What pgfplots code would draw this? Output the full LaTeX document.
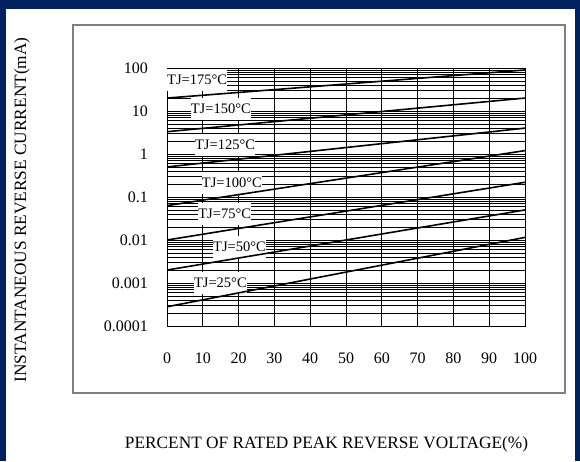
\documentclass[border=0pt]{standalone}
\usepackage{pgfplots}
\pgfplotsset{compat=1.18}
\usepackage{fontspec}
\setmainfont{Liberation Serif}
\definecolor{navy}{RGB}{0,32,96}
\newcommand{\labfont}{\fontsize{14.5}{16}\selectfont}

\begin{document}
\begin{tikzpicture}
% frame
\fill[navy] (0pt,0pt) rectangle (580pt,461pt);
\fill[white] (6pt,0pt) rectangle (575pt,452pt);
\draw[gray, line width=1.2pt] (73pt,68pt) rectangle (565pt,436pt);
\begin{axis}[
    at={(167pt,135pt)}, anchor=south west,
    scale only axis,
    width=358pt, height=258pt,
    ymode=log,
    xmin=0, xmax=100,
    ymin=1e-4, ymax=100,
    xtick={0,10,...,100},
    xticklabels={0,10,20,30,40,50,60,70,80,90,100},
    ytick={1e-4,1e-3,1e-2,1e-1,1,10,100},
    yticklabels={0.0001,0.001,0.01,0.1,1,10,100},
    major tick length=0pt, minor tick length=0pt,
    xmajorgrids, ymajorgrids, yminorgrids,
    major grid style={black, line width=0.7pt},
    minor grid style={black, line width=0.6pt},
    axis line style={black, line width=0.8pt},
    ticklabel style={font=\fontsize{16}{18}\selectfont},
    xticklabel style={anchor=north, inner sep=0pt, yshift=-27pt},
    yticklabel style={anchor=east, inner sep=0pt, xshift=-19pt},
    xlabel={PERCENT OF RATED PEAK REVERSE VOLTAGE(\%)},
    ylabel={INSTANTANEOUS REVERSE CURRENT(mA)},
    xlabel style={at={(axis description cs:0.4455,-0.46)}, anchor=center, font=\fontsize{17.3}{19}\selectfont},
    ylabel style={at={(axis description cs:-0.405,0.45)}, anchor=center, font=\fontsize{17.3}{19}\selectfont},
]
% temperature labels
\node[fill=white, inner sep=0pt, minimum height=22pt, anchor=west, font=\labfont] at (axis cs:0,52.6) {TJ=175°C\hspace{12pt}};
\node[fill=white, inner sep=0pt, minimum height=22pt, anchor=west, font=\labfont] at (axis cs:6.6,11.1) {TJ=150°C\hspace{12pt}};
\node[fill=white, inner sep=0pt, minimum height=22pt, anchor=west, font=\labfont] at (axis cs:7.8,1.62) {TJ=125°C\hspace{12pt}};
\node[fill=white, inner sep=0pt, minimum height=22pt, anchor=west, font=\labfont] at (axis cs:9.7,0.212) {TJ=100°C\hspace{12pt}};
\node[fill=white, inner sep=0pt, minimum height=22pt, anchor=west, font=\labfont] at (axis cs:8.7,0.0403) {TJ=75°C\hspace{12pt}};
\node[fill=white, inner sep=0pt, minimum height=22pt, anchor=west, font=\labfont] at (axis cs:12.85,0.00687) {TJ=50°C\hspace{12pt}};
\node[fill=white, inner sep=0pt, minimum height=22pt, anchor=west, font=\labfont] at (axis cs:7.5,0.001) {TJ=25°C\hspace{12pt}};
% curves
\addplot[black, line width=1.6pt, mark=none] coordinates {(0,20) (100,90)};
\addplot[black, line width=1.6pt, mark=none] coordinates {(0,3.3) (100,20)};
\addplot[black, line width=1.6pt, mark=none] coordinates {(0,0.5) (100,4)};
\addplot[black, line width=1.6pt, mark=none] coordinates {(0,0.063) (100,1.2)};
\addplot[black, line width=1.6pt, mark=none] coordinates {(0,0.01) (100,0.22)};
\addplot[black, line width=1.6pt, mark=none] coordinates {(0,0.002) (100,0.05)};
\addplot[black, line width=1.6pt, mark=none] coordinates {(0,0.00028) (100,0.0115)};
\end{axis}
\end{tikzpicture}
\end{document}
